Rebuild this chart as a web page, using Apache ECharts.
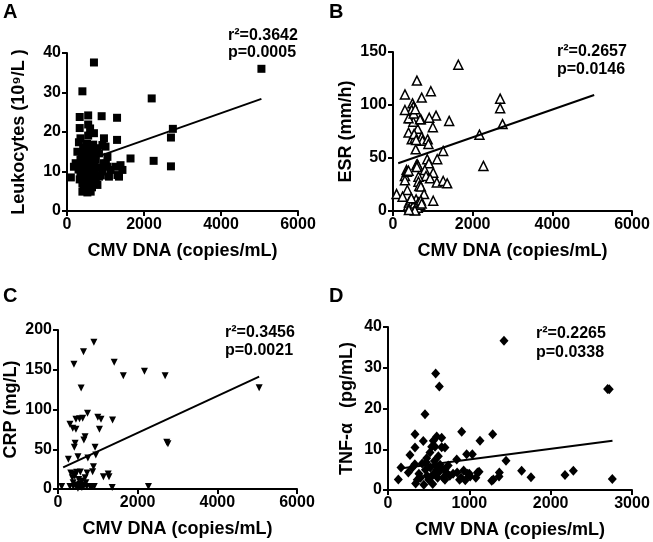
<!DOCTYPE html>
<html>
<head>
<meta charset="utf-8">
<script src="https://cdn.jsdelivr.net/npm/echarts@6/dist/echarts.min.js"></script>
<style>
  html, body { margin: 0; padding: 0; background: #fff; }
  #chart { width: 653px; height: 542px; }
</style>
</head>
<body>
<div id="chart"></div>
<script>
// data: [CMV DNA copies/mL, value]
const leukocytes = [
  [100, 8.5], [700, 37.6], [400, 30.3], [5050, 36], [2200, 28.5], [2750, 20.8], [2700, 18.6],
  [2250, 12.7], [2700, 11.3], [1650, 13.3], [1300, 23.6], [900, 24], [550, 24.2], [330, 23.8],
  [330, 21], [1300, 18], [550, 21.9], [600, 20.9], [700, 19.7], [550, 19.1], [350, 18.4],
  [310, 17.4], [610, 16.7], [960, 18.4], [920, 16.7], [1000, 16.3], [270, 15], [440, 14.6],
  [790, 15.9], [830, 14.6], [1050, 13.7], [225, 12.1], [180, 11.2], [960, 12.1], [1050, 11.2],
  [1130, 10.4], [1260, 11.2], [1390, 11.6], [1440, 10.4], [1310, 9.1], [1350, 8.7], [830, 8.7],
  [1090, 8.7], [790, 6.6], [400, 4.9], [530, 4.7], [615, 4.9],
  [350, 13], [380, 11.5], [420, 10], [450, 12.5], [480, 9], [500, 14], [520, 11], [540, 8],
  [560, 13], [580, 10], [600, 12], [620, 7.5], [640, 11], [660, 14], [680, 9.5], [700, 12.5],
  [720, 10.5], [750, 8], [780, 11], [350, 9.5], [400, 7], [430, 6], [460, 8], [490, 6.5],
  [510, 5.5], [560, 6], [600, 9], [650, 6], [700, 7], [380, 14.5], [420, 16], [470, 15.5],
  [520, 17], [570, 15], [640, 15.5], [680, 16.8], [300, 10.5], [330, 8], [450, 11], [600, 10.5],
  [500, 10], [550, 12], [880, 9], [920, 10], [1010, 12], [750, 13], [870, 11]
];
const esr = [
  [1640, 138], [600, 123], [300, 110], [950, 113], [720, 107], [2690, 106], [2690, 97], [2750, 82],
  [2170, 72], [2270, 42.5], [1410, 85], [1080, 90], [910, 88], [1000, 79], [700, 86.5], [620, 77.5],
  [390, 74], [470, 67.6], [550, 68.6], [720, 70], [740, 66.3], [870, 67.6], [890, 63.2], [1260, 56.6],
  [570, 58.2], [860, 48.8], [1110, 48.8], [900, 45], [590, 43.4], [610, 44], [630, 42.5], [600, 41.5],
  [340, 38.7], [300, 33], [300, 29], [800, 38.7], [1010, 36.2], [830, 33], [930, 30.8], [640, 32.4],
  [640, 27.6], [660, 23.6], [1100, 27], [1260, 28.3], [1360, 26.1], [700, 23], [1010, 9.7], [360, 19.8],
  [90, 16], [240, 13.5], [780, 16], [490, 101.6], [510, 98.4], [470, 95.3], [300, 95.3], [430, 87.4],
  [510, 84.2], [680, 86.5], [390, 87.4], [520, 92], [560, 96], [530, 72.6], [580, 67],
  [380, 5], [400, 8], [420, 3], [440, 10], [460, 6], [480, 2], [500, 9], [520, 4], [540, 7],
  [560, 1], [580, 11], [600, 5], [620, 3], [640, 8], [680, 6], [700, 10], [720, 7], [460, 12],
  [550, 0.5], [400, 1], [350, 37], [390, 38]
];
const crp = [
  [900, 184.5], [640, 172.7], [400, 156.8], [1410, 159.4], [1640, 142.5], [2170, 148], [2690, 142.5],
  [5050, 127.4], [580, 127], [740, 95.2], [450, 87.7], [540, 88.4], [620, 88.9], [1000, 90.2],
  [1080, 87.7], [1370, 86.8], [300, 81.4], [370, 76.4], [450, 75.1], [1040, 75.1], [680, 65.8],
  [650, 61.6], [430, 57.5], [410, 52.5], [930, 52.5], [260, 37.4], [500, 40.6], [750, 39], [950, 42.8],
  [2730, 58.7], [2760, 57], [890, 28], [870, 21.8], [1140, 15.5], [1260, 18.9], [1280, 15.5],
  [320, 20], [400, 19], [470, 21], [560, 21.5], [730, 20], [360, 14], [420, 16], [520, 12], [600, 10],
  [680, 14], [380, 8], [550, 6], [650, 5], [92, 3], [300, 3], [385, 3], [470, 3], [550, 3], [640, 3],
  [720, 3], [800, 3], [850, 3], [910, 3], [1360, 2], [2270, 3], [440, 5], [600, 2], [500, 1], [700, 8]
];
const tnf = [
  [1426, 36.6], [586, 28.6], [631, 25.4], [2700, 24.8], [2720, 24.7], [455, 18.6], [2758, 2.7],
  [2176, 3.7], [2279, 4.7], [1758, 3.1], [1643, 4.7], [1451, 7.2], [1287, 13.7], [906, 14.3],
  [1131, 12.1], [1369, 4.3], [1365, 3.3], [1275, 2.3], [1295, 2.6], [332, 13.7], [434, 12], [332, 10.4],
  [599, 13.1], [557, 12.1], [660, 12.8], [537, 10.6], [578, 10.6], [660, 10.5], [270, 8.6], [516, 9.2],
  [619, 8.3], [475, 7.8], [967, 8.8], [1037, 8.8], [845, 7.5], [160, 5.5], [127, 2.6],
  [250, 4.3], [330, 6.3], [340, 1.6], [380, 4], [400, 3], [420, 6.5], [440, 1.3], [460, 5], [480, 3.5],
  [500, 2.5], [520, 5.5], [550, 1.5], [560, 4], [590, 6], [610, 3], [630, 4.5], [650, 5.5], [680, 3],
  [700, 2.5], [720, 4.2], [740, 6], [760, 3.5], [800, 4], [850, 4.3], [880, 2.5], [900, 3], [930, 4.8],
  [950, 2.4], [980, 4], [1000, 4], [1080, 3], [1100, 4.3], [1120, 4.5], [1010, 3.3], [700, 5], [600, 5],
  [520, 3], [360, 2.5], [300, 5.5], [470, 6.8], [700, 10.4], [640, 6.2], [570, 7.1]
];

// fitted regression lines (end points)
const fitA = [[137, 11.5], [5050, 28.4]];
const fitB = [[130, 45], [5050, 109.4]];
const fitC = [[130, 27.3], [5050, 141.3]];
const fitD = [[150, 5.3], [2760, 12.1]];

const statsA = ['r²=0.3642', 'p=0.0005'];
const statsB = ['r²=0.2657', 'p=0.0146'];
const statsC = ['r²=0.3456', 'p=0.0021'];
const statsD = ['r²=0.2265', 'p=0.0338'];

const FONT = 'Liberation Sans, Arial, Helvetica, sans-serif';
const xName = 'CMV DNA (copies/mL)';

const chart = echarts.init(document.getElementById('chart'));

// common axis style, GraphPad look
const axisStyle = {
  axisLine: { show: true, onZero: false, lineStyle: { color: '#000', width: 2 } },
  axisTick: { show: true, inside: false, length: 5, lineStyle: { color: '#000', width: 2 } },
  axisLabel: {
    color: '#000', fontSize: 16, fontWeight: 'bold', fontFamily: FONT, margin: 6,
    formatter: (v) => String(v)
  },
  splitLine: { show: false },
  nameTextStyle: { color: '#000', fontSize: 18, fontWeight: 'bold', fontFamily: FONT },
  nameLocation: 'middle'
};

const xAxis = (i, max, interval) => ({
  ...axisStyle, type: 'value', gridIndex: i, min: 0, max, interval, name: xName, nameGap: 31
});
const yAxis = (i, max, interval, name, gap) => ({
  ...axisStyle, type: 'value', gridIndex: i, min: 0, max, interval, name, nameGap: gap
});

const scatter = (i, data, extra) => ({
  type: 'scatter', xAxisIndex: i, yAxisIndex: i, data, ...extra
});
const fit = (i, data) => ({
  type: 'line', xAxisIndex: i, yAxisIndex: i, data, symbol: 'none', z: 3,
  lineStyle: { color: '#000', width: 2 }
});

const label = (text, left, top, size) => ({
  type: 'text', left, top,
  style: { text, fill: '#000', font: 'bold ' + size + 'px ' + FONT }
});

const option = {
  animation: false,
  backgroundColor: '#fff',
  grid: [
    { left: 67, top: 53, width: 231, height: 158 },
    { left: 393, top: 52, width: 239, height: 159 },
    { left: 58, top: 330, width: 239, height: 159 },
    { left: 388, top: 327, width: 244, height: 163 }
  ],
  xAxis: [
    xAxis(0, 6000, 2000),
    xAxis(1, 6000, 2000),
    xAxis(2, 6000, 2000),
    xAxis(3, 3000, 1000)
  ],
  yAxis: [
    yAxis(0, 40, 10, 'Leukocytes (10⁹/L )', 39),
    yAxis(1, 150, 50, 'ESR (mm/h)', 38),
    yAxis(2, 200, 50, 'CRP (mg/L)', 38),
    yAxis(3, 40, 10, 'TNF-α   (pg/mL)', 32)
  ],
  series: [
    scatter(0, leukocytes, { symbol: 'rect', symbolSize: 8, itemStyle: { color: '#000', opacity: 1 } }),
    fit(0, fitA),
    scatter(1, esr, {
      symbol: 'triangle', symbolSize: 9,
      itemStyle: { color: '#fff', borderColor: '#000', borderWidth: 1.5, opacity: 1 }
    }),
    fit(1, fitB),
    scatter(2, crp, {
      symbol: 'triangle', symbolRotate: 180, symbolSize: 7,
      itemStyle: { color: '#000', opacity: 1 }
    }),
    fit(2, fitC),
    scatter(3, tnf, { symbol: 'diamond', symbolSize: [9, 10], itemStyle: { color: '#000', opacity: 1 } }),
    fit(3, fitD)
  ],
  graphic: [
    label('A', 3, 2, 20),
    label('B', 329, 2, 20),
    label('C', 3, 286, 20),
    label('D', 329, 286, 20),
    label(statsA[0], 228, 28, 16), label(statsA[1], 228, 45, 16),
    label(statsB[0], 557, 44, 16), label(statsB[1], 557, 62, 16),
    label(statsC[0], 225, 325, 16), label(statsC[1], 225, 343, 16),
    label(statsD[0], 536, 326, 16), label(statsD[1], 536, 345, 16)
  ]
};

chart.setOption(option);
</script>
</body>
</html>
